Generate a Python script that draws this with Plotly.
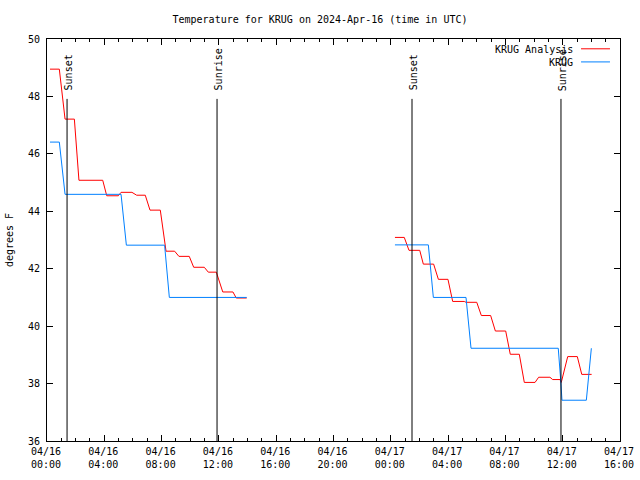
import pandas as pd
import plotly.graph_objects as go

base = pd.Timestamp("2024-04-16 00:00")

# hours since 2024-04-16 00:00 UTC, temperature degrees F
analysis_hours = [0.21, 0.86, 1.26, 1.91, 2.23, 3.89, 4.17, 4.98, 5.17, 5.93, 6.26, 6.86, 7.19, 7.91,
                  8.31, 8.91, 9.21, 9.93, 10.24, 10.98, 11.26, 11.82, 12.27, 12.98, 13.21, 13.94,
                  None,
                  24.29, 24.94, 25.27, 26.02, 26.27, 26.99, 27.32, 27.99, 28.32, 29.13, 29.25, 30.0,
                  30.32, 30.97, 31.30, 32.02, 32.34, 32.97, 33.32, 34.07, 34.32, 35.11, 35.30, 35.81,
                  35.90, 36.35, 37.02, 37.33, 38.02]
analysis_temp = [48.95, 48.95, 47.21, 47.21, 45.08, 45.08, 44.54, 44.54, 44.66, 44.66, 44.56, 44.56, 44.04, 44.04,
                 42.61, 42.61, 42.43, 42.43, 42.05, 42.05, 41.88, 41.88, 41.19, 41.19, 40.98, 40.98,
                 None,
                 43.09, 43.09, 42.64, 42.64, 42.16, 42.16, 41.63, 41.63, 40.86, 40.86, 40.83, 40.83,
                 40.37, 40.37, 39.83, 39.83, 39.02, 39.02, 38.04, 38.04, 38.22, 38.22, 38.14, 38.14,
                 38.04, 38.94, 38.94, 38.32, 38.32]

obs_hours = [0.21, 0.86, 1.26, 5.17, 5.54, 8.21, 8.54, 13.94,
             None,
             24.29, 26.62, 26.97, 29.25, 29.60, 35.69, 35.86, 35.95, 37.65, 38.00]
obs_temp = [46.41, 46.41, 44.59, 44.59, 42.82, 42.82, 41.00, 41.00,
            None,
            42.83, 42.83, 41.00, 41.00, 39.23, 39.23, 38.12, 37.42, 37.42, 39.23]

event_hours = [1.40, 11.87, 25.48, 35.88]
event_labels = ["Sunset", "Sunrise", "Sunset", "Sunrise"]

series_names = ["KRUG Analysis", "KRUG"]
series_colors = ["#ff0000", "#0080ff"]


def to_time(hours):
    return [None if h is None else base + pd.Timedelta(hours=h) for h in hours]


FONT = "DejaVu Sans Mono"

fig = go.Figure()
fig.add_trace(go.Scatter(x=to_time(analysis_hours), y=analysis_temp, mode="lines",
                         name=series_names[0], line=dict(color=series_colors[0], width=1),
                         connectgaps=False))
fig.add_trace(go.Scatter(x=to_time(obs_hours), y=obs_temp, mode="lines",
                         name=series_names[1], line=dict(color=series_colors[1], width=1),
                         connectgaps=False))

shapes = []
annotations = []
for h, lab in zip(event_hours, event_labels):
    t = base + pd.Timedelta(hours=h)
    shapes.append(dict(type="line", xref="x", yref="paper", x0=t, x1=t, y0=0, y1=0.851,
                       line=dict(color="black", width=1)))
    annotations.append(dict(x=t, y=0.866, xref="x", yref="paper", text=lab, textangle=-90,
                            showarrow=False, xanchor="center", yanchor="bottom", xshift=1.5,
                            font=dict(family=FONT, size=10, color="black")))

# gnuplot-style legend: text right-aligned, sample line to its right
leg_y = [0.9736, 0.941]
for name, color, yy in zip(series_names, series_colors, leg_y):
    annotations.append(dict(x=0.921, y=yy, xref="paper", yref="paper", text=name,
                            showarrow=False, xanchor="right", yanchor="middle",
                            font=dict(family=FONT, size=10, color="black")))
    shapes.append(dict(type="line", xref="paper", yref="paper", x0=0.932, x1=0.9825,
                       y0=yy + 0.002, y1=yy + 0.002, line=dict(color=color, width=1)))

fig.update_layout(
    width=640, height=480,
    margin=dict(l=47, r=20, t=39, b=39, autoexpand=False),
    paper_bgcolor="white", plot_bgcolor="white",
    showlegend=False,
    title=dict(text="Temperature for KRUG on 2024-Apr-16 (time in UTC)", x=0.5, xanchor="center",
               y=0.96, yanchor="middle", font=dict(family=FONT, size=10, color="black")),
    font=dict(family=FONT, size=10, color="black"),
    shapes=shapes,
    annotations=annotations,
)

fig.update_xaxes(
    type="date",
    range=[base, base + pd.Timedelta(hours=40)],
    tick0=base, dtick=4 * 3600 * 1000,
    tickformat="%m/%d<br>%H:%M",
    ticks="inside", ticklen=6, tickcolor="black",
    minor=dict(dtick=3600 * 1000, ticks="inside", ticklen=3, tickcolor="black", showgrid=False),
    showgrid=False, zeroline=False, automargin=False,
    showline=True, linecolor="black", linewidth=1, mirror="ticks",
    ticklabelshift=-1, ticklabelstandoff=1,
    tickfont=dict(family=FONT, size=10, color="black"),
)
fig.update_yaxes(
    range=[36, 50], dtick=2,
    ticks="inside", ticklen=6, tickcolor="black",
    showgrid=False, zeroline=False, automargin=False,
    showline=True, linecolor="black", linewidth=1, mirror="ticks",
    ticklabelstandoff=4,
    title=dict(text="degrees F", font=dict(family=FONT, size=10, color="black"), standoff=12),
    tickfont=dict(family=FONT, size=10, color="black"),
)

fig.write_html("out.html", config={"displayModeBar": False},
               post_script="document.body.style.margin='0';document.body.style.overflow='hidden';")
